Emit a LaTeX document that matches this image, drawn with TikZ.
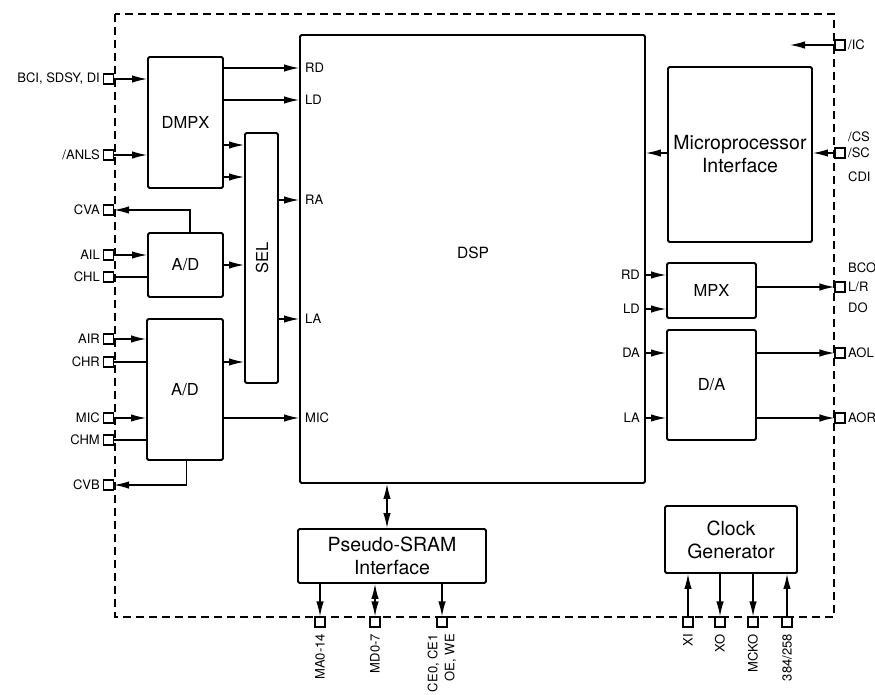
\documentclass[tikz,border=0pt]{standalone}
\usepackage{fontspec}
\setmainfont{TeX Gyre Heros}
\usetikzlibrary{arrows.meta}
\begin{document}
\begin{tikzpicture}[x=1pt,y=-1pt,
  blk/.style={draw, line width=1.9pt, rounded corners=1.5pt, inner sep=0pt, align=center},
  pin/.style={draw, fill=white, line width=1.2pt, minimum size=10pt, inner sep=0pt},
  conn/.style={line width=1.3pt},
  arr/.style={conn, -{Latex[length=15pt,width=7.5pt]}},
  darr/.style={conn, {Latex[length=15pt,width=7.5pt]}-{Latex[length=15pt,width=7.5pt]}},
  plab/.style={font=\fontsize{13}{17}\selectfont, inner sep=1pt},
  big/.style={font=\fontsize{19.5}{23}\selectfont},
  mid/.style={font=\fontsize{16.5}{19}\selectfont},
  frame/.style={line width=1.3pt, dash pattern=on 8pt off 5pt}]
\fill[white] (0,0) rectangle (875,695);
\useasboundingbox (0,0) rectangle (875,695);
% chip boundary
\draw[frame] (115,14) rectangle (834,617);
% blocks
\node[blk, mid, minimum width=75, minimum height=131] (dmpx) at (185.5,122.5) {DMPX};
\node[blk, minimum width=33, minimum height=250] (sel) at (261.5,258) {};
\node[mid, rotate=90] (sellab) at (262,258) {SEL};
\node[blk, mid, minimum width=75, minimum height=64] (ad1) at (185.5,265) {A/D};
\node[blk, mid, minimum width=76, minimum height=141] (ad2) at (185,389.5) {A/D};
\node[blk, minimum width=345, minimum height=448] (dsp) at (472.5,259) {};
\node[font=\fontsize{15.5}{18}\selectfont] (dsplab) at (473,253) {DSP};
\node[blk, big, minimum width=144, minimum height=175] (mpi) at (740,154.5) {Microprocessor\\Interface};
\node[blk, mid, minimum width=89, minimum height=55] (mpx) at (711.5,290.5) {MPX};
\node[blk, mid, minimum width=89, minimum height=110] (da) at (711.5,385) {D/A};
\node[blk, big, minimum width=188, minimum height=54] (sram) at (392,556) {Pseudo-SRAM\\Interface};
\node[blk, big, minimum width=132, minimum height=67] (clk) at (731,539.5) {Clock\\Generator};
% DSP port labels
\node[plab, anchor=west] (dRD) at (304,68) {RD};
\node[plab, anchor=west] (dLD) at (304,100) {LD};
\node[plab, anchor=west] (dRA) at (304,200) {RA};
\node[plab, anchor=west] (dLA) at (304,319) {LA};
\node[plab, anchor=west] (dMIC) at (304,418) {MIC};
\node[plab, anchor=east] (eRD) at (641,275) {RD};
\node[plab, anchor=east] (eLD) at (641,309) {LD};
\node[plab, anchor=east] (eDA) at (641,353) {DA};
\node[plab, anchor=east] (eLA) at (641,418) {LA};
% left pins
\foreach \n/\y/\t in {BCI/79/{BCI, SDSY, DI}, ANLS/155/{/ANLS}, CVA/210/CVA, AIL/255/AIL, CHL/277/CHL, AIR/339/AIR, CHR/362/CHR, MIC/418/MIC, CHM/440/CHM, CVB/485/CVB}{
  \node[pin] (p\n) at (108.5,\y) {};
  \node[plab, anchor=east] (l\n) at (101,\y) {\t};
}
% right pins
\node[pin] (pIC) at (840,45) {};
\node[plab, anchor=west] (lIC) at (847,45) {/IC};
\node[pin] (pCS) at (840,153) {};
\node[plab, anchor=west] (lCS) at (847,137) {/CS};
\node[plab, anchor=west] (lSC) at (847,153) {/SC};
\node[plab, anchor=west] (lCDI) at (847,177) {CDI};
\node[pin] (pBCO) at (840,287) {};
\node[plab, anchor=west] (lBCO) at (847,268) {BCO};
\node[plab, anchor=west] (lLR) at (847,287) {L/R};
\node[plab, anchor=west] (lDO) at (847,308) {DO};
\node[pin] (pAOL) at (840,353) {};
\node[plab, anchor=west] (lAOL) at (847,353) {AOL};
\node[pin] (pAOR) at (840,418) {};
\node[plab, anchor=west] (lAOR) at (847,418) {AOR};
\coordinate (icend) at (790,45);
% bottom pins
\foreach \n/\x in {MA/320, MD/375, CE/442, XI/688, XO/720, MCKO/753, SEL/787}{
  \node[pin] (b\n) at (\x,622) {};
}
\node[plab, rotate=90, anchor=east] (lMA) at (320,633) {MA0-14};
\node[plab, rotate=90, anchor=east] (lMD) at (375,633) {MD0-7};
\node[plab, rotate=90, anchor=east, align=right] (lCE) at (442,633) {CE0, CE1\\OE, WE};
\node[plab, rotate=90, anchor=east] (lXI) at (688,633) {XI};
\node[plab, rotate=90, anchor=east] (lXO) at (720,633) {XO};
\node[plab, rotate=90, anchor=east] (lMCKO) at (753,633) {MCKO};
\node[plab, rotate=90, anchor=east] (lSEL) at (787,633) {384/258};
% left connections
\draw[arr] (pBCI.east) -- (pBCI.east -| dmpx.west);
\draw[arr] (pANLS.east) -- (pANLS.east -| dmpx.west);
\draw[arr] ([xshift=4.5pt]ad1.north) |- (pCVA.east);
\draw[arr] (pAIL.east) -- (pAIL.east -| ad1.west);
\draw[conn] (pCHL.east) -- (pCHL.east -| ad1.west);
\draw[arr] (pAIR.east) -- (pAIR.east -| ad2.west);
\draw[conn] (pCHR.east) -- (pCHR.east -| ad2.west);
\draw[arr] (pMIC.east) -- (pMIC.east -| ad2.west);
\draw[conn] (pCHM.east) -- (pCHM.east -| ad2.west);
\draw[arr] ([xshift=1.5pt]ad2.south) |- (pCVB.east);
% DMPX / SEL / A/D to DSP
\draw[arr] (dmpx.east |- dRD.west) -- (dsp.west |- dRD.west);
\draw[arr] (dmpx.east |- dLD.west) -- (dsp.west |- dLD.west);
\draw[arr] ([yshift=-22.5pt]dmpx.east) -- ([yshift=-22.5pt]dmpx.east -| sel.west);
\draw[arr] ([yshift=-54.5pt]dmpx.east) -- ([yshift=-54.5pt]dmpx.east -| sel.west);
\draw[arr] (sel.east |- dRA.west) -- (dsp.west |- dRA.west);
\draw[arr] (ad1.east) -- (ad1.east -| sel.west);
\draw[arr] (sel.east |- dLA.west) -- (dsp.west |- dLA.west);
\draw[arr] (ad2.east |- pCHR.east) -- (sel.west |- pCHR.east);
\draw[arr] (ad2.east |- dMIC.west) -- (dsp.west |- dMIC.west);
% right side
\draw[arr] (pIC.west) -- (icend);
\draw[arr] (pCS.west) -- (pCS.west -| mpi.east);
\draw[arr] (mpi.west |- pCS.west) -- (dsp.east |- pCS.west);
\draw[arr] (dsp.east |- eRD.east) -- (mpx.west |- eRD.east);
\draw[arr] (dsp.east |- eLD.east) -- (mpx.west |- eLD.east);
\draw[arr] (dsp.east |- eDA.east) -- (da.west |- eDA.east);
\draw[arr] (dsp.east |- eLA.east) -- (da.west |- eLA.east);
\draw[arr] (mpx.east |- pBCO.west) -- (pBCO.west);
\draw[arr] (da.east |- pAOL.west) -- (pAOL.west);
\draw[arr] (da.east |- pAOR.west) -- (pAOR.west);
% bottom
\draw[darr] ([xshift=-5pt]sram.north) -- ([xshift=-5pt]sram.north |- dsp.south);
\draw[arr] (sram.south -| bMA.north) -- (bMA.north);
\draw[darr] (sram.south -| bMD.north) -- (bMD.north);
\draw[arr] (sram.south -| bCE.north) -- (bCE.north);
\draw[arr] (bXI.north) -- (bXI.north |- clk.south);
\draw[arr] (clk.south -| bXO.north) -- (bXO.north);
\draw[arr] (clk.south -| bMCKO.north) -- (bMCKO.north);
\draw[arr] (bSEL.north) -- (bSEL.north |- clk.south);
\end{tikzpicture}
\end{document}
